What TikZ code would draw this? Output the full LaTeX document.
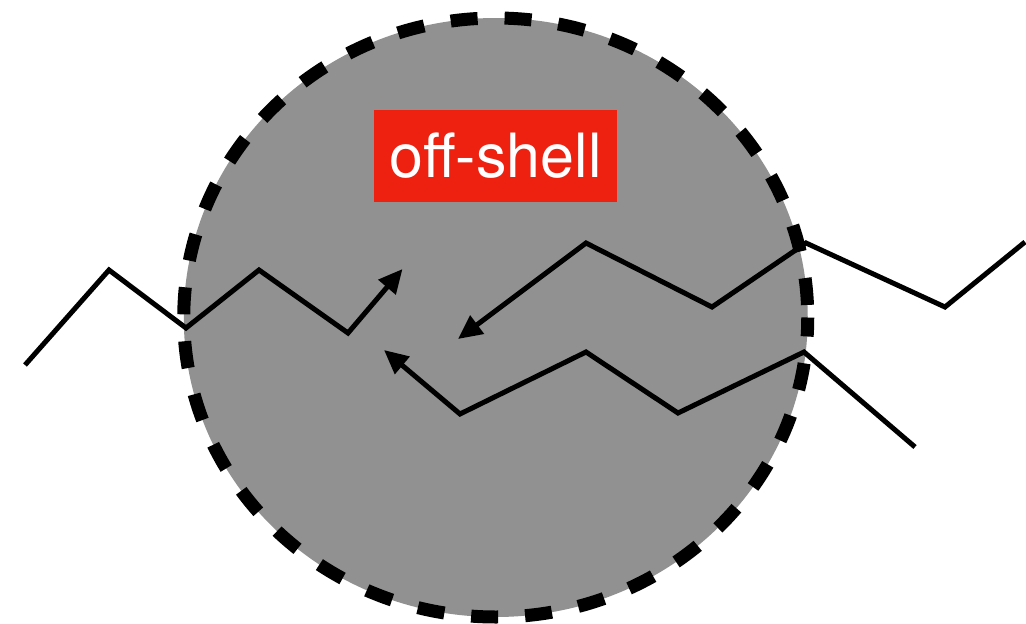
\documentclass[tikz,border=0pt]{standalone}
\usepackage{fontspec}
\setmainfont{TeX Gyre Heros}
\usetikzlibrary{arrows.meta}
\definecolor{blobgray}{HTML}{919191}
\definecolor{labelred}{HTML}{EE2010}
\begin{document}
\begin{tikzpicture}[x=1pt,y=-1pt,
  zig/.style={line width=5pt, black, miter limit=10},
  zigarrow/.style={zig, -{Triangle[length=24pt,width=22pt]}},
  rim/.style={line width=13pt, dash pattern=on 27pt off 27pt, dash phase=8pt},
  tag/.style={fill=labelred, text=white, inner sep=0pt, minimum width=243pt,
    minimum height=92pt, font=\fontsize{61}{61}\selectfont}]
\useasboundingbox (0,0) rectangle (1026,624);
\coordinate (c) at (495.75,317.5);
% blob fill
\fill[blobgray] (c) ellipse [x radius=312, y radius=299.5];
% left line
\coordinate (a1) at (25,365);
\coordinate (a2) at (109,270);
\coordinate (a3) at (186,328);
\coordinate (a4) at (259,270);
\coordinate (a5) at (348,333);
\coordinate (a6) at (402.5,269);
\draw[zigarrow] (a1) -- (a2) -- (a3) -- (a4) -- (a5) -- (a6);
% upper right line
\coordinate (b1) at (1025,242);
\coordinate (b2) at (945,307);
\coordinate (b3) at (806,243);
\coordinate (b4) at (712,307);
\coordinate (b5) at (586,243);
\coordinate (b6) at (458,339);
\draw[zigarrow] (b1) -- (b2) -- (b3) -- (b4) -- (b5) -- (b6);
% lower right line
\coordinate (d1) at (915,447);
\coordinate (d2) at (804,352);
\coordinate (d3) at (678,413);
\coordinate (d4) at (586,352);
\coordinate (d5) at (460,414);
\coordinate (d6) at (384,350);
\draw[zigarrow] (d1) -- (d2) -- (d3) -- (d4) -- (d5) -- (d6);
% dashed rim
\draw[rim] (c) ellipse [x radius=312, y radius=299.5];
% label
\node[tag] (label) at (495.5,156) {off-shell};
\end{tikzpicture}
\end{document}
